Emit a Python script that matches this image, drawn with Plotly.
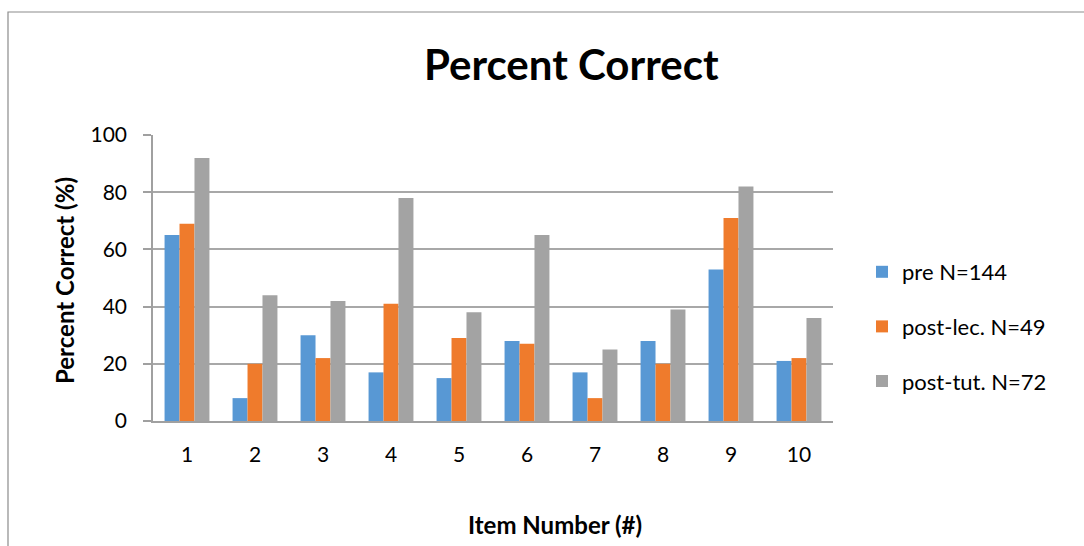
import plotly.graph_objects as go

items = ["1", "2", "3", "4", "5", "6", "7", "8", "9", "10"]
pre = [65, 8, 30, 17, 15, 28, 17, 28, 53, 21]
post_lec = [69, 20, 22, 41, 29, 27, 8, 20, 71, 22]
post_tut = [92, 44, 42, 78, 38, 65, 25, 39, 82, 36]
series_names = ["pre N=144", "post-lec. N=49", "post-tut. N=72"]
y_ticks = [0, 20, 40, 60, 80, 100]

colors = ["#5898d4", "#ef7b2c", "#a3a3a3"]
FONT = "Lato, 'Open Sans', sans-serif"

fig = go.Figure()
for name, vals, c in zip(series_names, [pre, post_lec, post_tut], colors):
    fig.add_trace(go.Bar(x=items, y=vals, name=name, marker=dict(color=c, line=dict(width=0)),
                         legendgroup=name))

L, R, T, B = 153, 251, 135, 125
W, H = 1084, 546
pw = W - L - R
ph = H - T - B

fig.update_layout(
    width=W, height=H,
    margin=dict(l=L, r=R, t=T, b=B, pad=0),
    paper_bgcolor="white", plot_bgcolor="white",
    barmode="group", bargap=0.34, bargroupgap=0,
    font=dict(family=FONT, color="#000000", size=21),
    showlegend=True,
    legend=dict(x=(862 - L) / pw, y=(H - B - 251) / ph, xanchor="left", yanchor="top",
                font=dict(size=22, family=FONT), tracegroupgap=23,
                itemwidth=30, bgcolor="rgba(0,0,0,0)"),
    xaxis=dict(type="category", showgrid=False, showline=True, linecolor="#a0a0a0",
               linewidth=1.5, ticks="", ticklabelstandoff=14,
               tickfont=dict(size=21, family=FONT)),
    yaxis=dict(range=[0, 100], tickvals=y_ticks, showgrid=True, gridcolor="#a8a8a8",
               gridwidth=1.5, showline=True, linecolor="#a0a0a0", linewidth=1.5,
               ticks="outside", ticklen=8, tickcolor="#a0a0a0", tickwidth=1.5,
               ticklabelstandoff=12, zeroline=False,
               tickfont=dict(size=21, family=FONT)),
    shapes=[dict(type="rect", xref="paper", yref="paper",
                 x0=(8 - L) / pw, x1=(W + 40 - L) / pw,
                 y0=(H - B - (H + 40)) / ph, y1=(H - B - 12) / ph,
                 line=dict(color="#8c8c8c", width=1.2), fillcolor="rgba(0,0,0,0)",
                 layer="below")],
    annotations=[
        dict(text="<b>Percent Correct</b>", xref="paper", yref="paper",
             x=(571 - L) / pw, y=(H - B - 64) / ph, xanchor="center", yanchor="middle",
             showarrow=False, font=dict(size=42, family=FONT)),
        dict(text="<b>Item Number (#)</b>", xref="paper", yref="paper",
             x=(555 - L) / pw, y=(H - B - 524) / ph, xanchor="center", yanchor="middle",
             showarrow=False, font=dict(size=24, family=FONT)),
        dict(text="<b>Percent Correct (%)</b>", xref="paper", yref="paper",
             x=(64 - L) / pw, y=(H - B - 281) / ph, xanchor="center", yanchor="middle",
             textangle=-90, showarrow=False, font=dict(size=24, family=FONT)),
    ],
)

fig.write_html("out.html", config={"displayModeBar": False},
               post_script="document.body.style.margin='0';document.body.style.overflow='hidden';")
